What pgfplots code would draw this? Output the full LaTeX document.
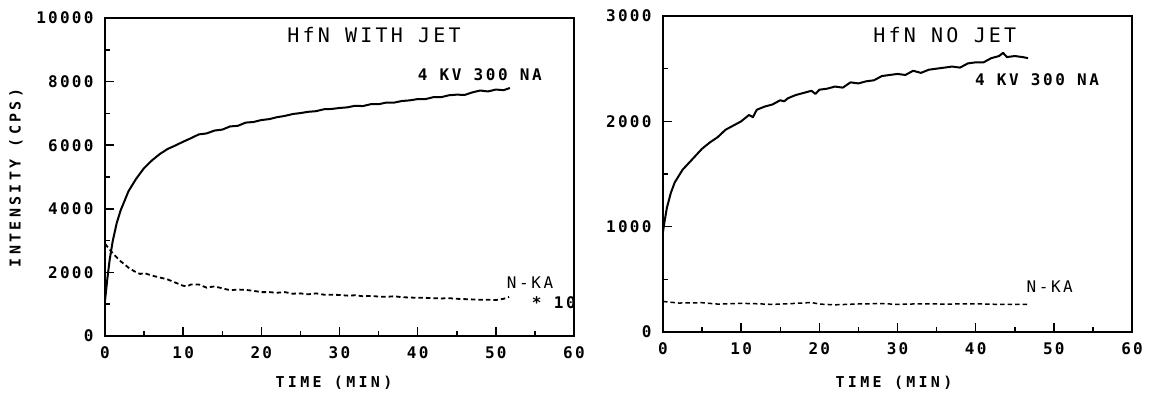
\documentclass[border=0pt]{standalone}
\usepackage{fontspec}
\usepackage{pgfplots}
\pgfplotsset{compat=1.18}
\newfontfamily\plotfont[LetterSpace=16]{DejaVu Sans Mono}
\newfontfamily\labelfont[LetterSpace=22]{DejaVu Sans Mono}
\newfontfamily\tickfont[LetterSpace=14]{DejaVu Sans Mono}

\pgfplotsset{
  plotterstyle/.style={
    scale only axis,
    width=469pt,
    xmin=0, xmax=60,
    xtick={0,10,...,60},
    minor x tick num=1,
    tick pos=left,
    tick align=inside,
    major tick length=9pt,
    minor tick length=5pt,
    every tick/.style={black, line width=1.5pt},
    axis line style={line width=2pt},
    scaled ticks=false,
    ticklabel style={font=\tickfont\bfseries\fontsize{16}{16}\selectfont},
    /pgf/number format/assume math mode=true,
    /pgf/number format/set thousands separator={},
    xticklabel style={yshift=-7pt},
    yticklabel style={xshift=-8pt},
    clip=false,
  },
  solidtrace/.style={black, line width=2pt, line join=round},
  dashtrace/.style={black, line width=1.8pt, dash pattern=on 4.5pt off 3pt},
}

\begin{document}
\begin{tikzpicture}[x=1pt,y=1pt]
\path[use as bounding box] (0,0) rectangle (1152,396);

% ---------------- HfN with jet ----------------
\begin{axis}[plotterstyle, at={(105pt,60pt)}, anchor=south west,
  height=318pt, ymin=0, ymax=10000,
  ytick={0,2000,...,10000}, minor y tick num=1]
\addplot[solidtrace] coordinates {
(0,1100) (0.3,1800) (0.6,2400) (1,3000) (1.5,3550) (2,3950) (2.5,4250)
(3,4550) (4,4950) (5,5280) (6,5520) (7,5720) (8,5880) (9,5990) (10,6110)
(11,6220) (12,6340) (13,6370) (14,6460) (15,6490) (16,6590) (17,6610)
(18,6710) (19,6730) (20,6790) (21,6820) (22,6880) (23,6920) (24,6980)
(25,7010) (26,7050) (27,7070) (28,7130) (29,7140) (30,7170) (31,7190)
(32,7240) (33,7230) (34,7290) (35,7290) (36,7340) (37,7340) (38,7390)
(39,7410) (40,7450) (41,7450) (42,7510) (43,7510) (44,7570) (45,7590)
(46,7580) (47,7660) (48,7720) (49,7690) (50,7750) (51,7730) (51.8,7800)
};
\addplot[dashtrace] coordinates {
(0,2900) (0.5,2750) (1,2600) (2,2350) (3,2150) (4,2000) (4.5,1950)
(5,1980) (6,1900) (7,1840) (8,1780) (9,1680) (10,1580) (10.5,1560)
(11,1620) (12,1620) (13,1520) (14,1560) (15,1500) (16,1440) (17,1460)
(18,1450) (19,1420) (20,1380) (21,1380) (22,1360) (23,1380) (24,1330)
(25,1340) (26,1310) (27,1340) (28,1300) (29,1300) (30,1290) (31,1270)
(32,1280) (33,1250) (34,1260) (35,1240) (36,1230) (37,1250) (38,1220)
(39,1210) (40,1200) (41,1200) (42,1190) (43,1180) (44,1190) (45,1170)
(46,1160) (47,1150) (48,1140) (49,1140) (50,1130) (51,1170) (51.7,1230)
};
\node[anchor=west, font=\plotfont\fontsize{20}{20}\selectfont, inner sep=0pt]
  at (axis cs:23.3,9465) {HfN WITH JET};
\node[anchor=west, font=\plotfont\bfseries\fontsize{16}{16}\selectfont, inner sep=0pt]
  at (axis cs:40,8210) {4 KV 300 NA};
\node[anchor=west, font=\plotfont\fontsize{16}{16}\selectfont, inner sep=0pt]
  at (axis cs:51.4,1670) {N-KA};
\node[anchor=west, font=\plotfont\bfseries\fontsize{16}{16}\selectfont, inner sep=0pt]
  at (axis cs:54.6,1040) {* 10};
\end{axis}

% ---------------- HfN without jet ----------------
\begin{axis}[plotterstyle, at={(663pt,64pt)}, anchor=south west,
  height=316pt, ymin=0, ymax=3000,
  ytick={0,1000,...,3000}, minor y tick num=1]
\addplot[solidtrace] coordinates {
(0,950) (0.2,1050) (0.5,1180) (1,1320) (1.5,1420) (2,1480) (2.5,1540)
(3,1580) (4,1660) (5,1740) (6,1800) (7,1850) (8,1920) (9,1960) (10,2000)
(11,2060) (11.5,2040) (12,2110) (13,2140) (14,2160) (15,2200) (15.5,2190)
(16,2220) (17,2250) (18,2270) (19,2290) (19.5,2260) (20,2300) (21,2310)
(22,2330) (23,2320) (24,2370) (25,2360) (26,2380) (27,2390) (28,2430)
(29,2440) (30,2450) (31,2440) (32,2480) (33,2460) (34,2490) (35,2500)
(36,2510) (37,2520) (38,2510) (39,2550) (40,2560) (41,2560) (42,2600)
(43,2620) (43.5,2650) (44,2610) (45,2620) (46,2610) (46.7,2600)
};
\addplot[dashtrace, line width=1.5pt] coordinates {
(0,290) (2,275) (5,278) (7,265) (10,272) (12,268) (14,262) (16,268)
(19,280) (20,265) (22,258) (25,266) (28,270) (30,262) (33,268) (36,265)
(40,268) (43,262) (46.7,262)
};
\node[anchor=west, font=\plotfont\fontsize{20}{20}\selectfont, inner sep=0pt]
  at (axis cs:26.9,2820) {HfN NO JET};
\node[anchor=west, font=\plotfont\bfseries\fontsize{16}{16}\selectfont, inner sep=0pt]
  at (axis cs:39.9,2393) {4 KV 300 NA};
\node[anchor=west, font=\plotfont\fontsize{16}{16}\selectfont, inner sep=0pt]
  at (axis cs:46.5,427) {N-KA};
\end{axis}

% shared axis titles
\node[rotate=90, font=\labelfont\bfseries\fontsize{15}{15}\selectfont]
  at (16,218) {INTENSITY (CPS)};
\node[font=\labelfont\bfseries\fontsize{15}{15}\selectfont] at (334,13) {TIME (MIN)};
\node[font=\labelfont\bfseries\fontsize{15}{15}\selectfont] at (894,13) {TIME (MIN)};
\end{tikzpicture}
\end{document}
